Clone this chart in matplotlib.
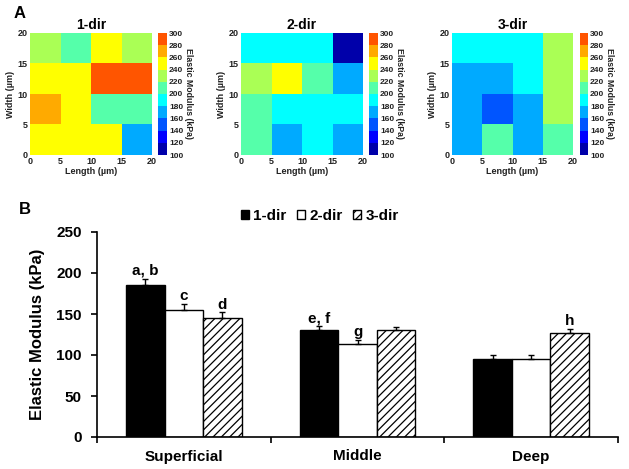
import numpy as np
import matplotlib
matplotlib.use('Agg')
import matplotlib.pyplot as plt
from matplotlib.colors import ListedColormap, BoundaryNorm

plt.rcParams['font.family'] = ['Liberation Sans', 'DejaVu Sans']
plt.rcParams['font.weight'] = 'bold'
plt.rcParams['axes.labelweight'] = 'bold'
plt.rcParams['hatch.linewidth'] = 0.9

# heatmap data (rows from width 0-5 at the bottom to 15-20 at the top), kPa
grid_edges = [0, 5, 10, 15, 20]
map_titles = ['1-dir', '2-dir', '3-dir']
map_1dir = [[250, 250, 250, 170],
            [270, 250, 210, 210],
            [250, 250, 290, 290],
            [230, 210, 250, 230]]
map_2dir = [[210, 170, 190, 170],
            [210, 190, 190, 190],
            [230, 250, 210, 170],
            [190, 190, 190, 110]]
map_3dir = [[170, 210, 170, 210],
            [170, 150, 170, 230],
            [170, 170, 190, 230],
            [190, 190, 190, 230]]
cbar_levels = list(range(100, 301, 20))

# bar chart data
zones = ['Superficial', 'Middle', 'Deep']
series = ['1-dir', '2-dir', '3-dir']
mean_1dir = [185, 131, 95]
mean_2dir = [155, 114, 95]
mean_3dir = [145, 130, 127]
err_1dir = [8, 4, 5]
err_2dir = [7, 4, 5]
err_3dir = [7, 4, 5]
letters_1dir = ['a, b', 'e, f', '']
letters_2dir = ['c', 'g', '']
letters_3dir = ['d', '', 'h']

W, H = 629, 469
fig = plt.figure(figsize=(W / 100, H / 100), dpi=100)


def box(l, t, r, b):
    return [l / W, 1 - b / H, (r - l) / W, (b - t) / H]


# jet with 10 levels (matlab style)
jet10 = ListedColormap([
    (0, 0, 0.667), (0, 0, 1), (0, 0.333, 1), (0, 0.667, 1), (0, 1, 1),
    (0.333, 1, 0.667), (0.667, 1, 0.333), (1, 1, 0), (1, 0.667, 0), (1, 0.333, 0)])
norm = BoundaryNorm(cbar_levels, jet10.N)

map_boxes = [(30, 33, 152, 155), (241, 33, 363, 155), (452, 33, 573, 155)]
cb_boxes = [(158, 33, 167, 155), (369, 33, 378, 155), (580, 33, 588, 155)]

for data, title, mb, cbb in zip([map_1dir, map_2dir, map_3dir], map_titles, map_boxes, cb_boxes):
    ax = fig.add_axes(box(*mb))
    mesh = ax.pcolormesh(grid_edges, grid_edges, np.array(data), cmap=jet10, norm=norm)
    for s in ax.spines.values():
        s.set_visible(False)
    ax.set_xticks(grid_edges)
    ax.set_yticks(grid_edges)
    ax.tick_params(labelsize=6.5, length=0, pad=1.5, labelcolor='#222222')
    ax.set_xlabel('Length (µm)', fontsize=6.5, labelpad=1, color='#222222')
    ax.set_ylabel('Width (µm)', fontsize=6.5, labelpad=2, color='#222222')
    ax.set_title(title, fontsize=10, fontweight='bold', pad=3)
    cax = fig.add_axes(box(*cbb))
    cb = fig.colorbar(mesh, cax=cax, ticks=cbar_levels)
    cb.outline.set_visible(False)
    cax.tick_params(labelsize=6, length=0, pad=1.5, labelcolor='#222222')
    cb.set_label('Elastic Modulus (kPa)', fontsize=6.3, rotation=270, labelpad=7, color='#222222')

fig.text(20 / W, 1 - 13 / H, 'A', fontsize=12, fontweight='bold', ha='center', va='center')
fig.text(25 / W, 1 - 210 / H, 'B', fontsize=12, fontweight='bold', ha='center', va='center')

# bar chart
ax = fig.add_axes(box(97, 232, 618, 437))
x = np.arange(len(zones))
bw = 0.222
styles = [dict(color='black', edgecolor='black'),
          dict(color='white', edgecolor='black'),
          dict(color='white', edgecolor='black', hatch='////')]
means = [mean_1dir, mean_2dir, mean_3dir]
errs = [err_1dir, err_2dir, err_3dir]
letters = [letters_1dir, letters_2dir, letters_3dir]
handles = []
for i in range(3):
    pos = x + (i - 1) * bw
    b = ax.bar(pos, means[i], bw, yerr=[[0] * 3, errs[i]], capsize=2,
               error_kw=dict(ecolor='black', elinewidth=1, capthick=1),
               linewidth=1, label=series[i], **styles[i])
    handles.append(b)
    for p, m, e, t in zip(pos, means[i], errs[i], letters[i]):
        if t:
            ax.text(p, m + e + 1, t, ha='center', va='bottom', fontsize=11, fontweight='bold')

ax.set_xlim(-0.5, 2.5)
ax.set_ylim(0, 250)
ax.set_yticks([0, 50, 100, 150, 200, 250])
ax.set_xticks([-0.5, 0.5, 1.5, 2.5])
ax.set_xticklabels([])
ax.set_xticks(x, minor=True)
ax.set_xticklabels(zones, minor=True)
ax.tick_params(axis='x', which='minor', length=0, pad=9, labelsize=11)
ax.tick_params(axis='x', which='major', length=4, width=1.2, direction='out')
ax.tick_params(axis='y', length=4, width=1.2, labelsize=11, pad=7)
ax.spines['top'].set_visible(False)
ax.spines['right'].set_visible(False)
ax.spines['left'].set_linewidth(1.2)
ax.spines['bottom'].set_linewidth(1.2)
ax.set_ylabel('Elastic Modulus (kPa)', fontsize=12, fontweight='bold', labelpad=8)

fig.legend(handles=handles, loc='center', bbox_to_anchor=(320 / W, 1 - 216 / H), ncol=3,
           frameon=False, fontsize=11, handlelength=0.5, handleheight=0.5,
           handletextpad=0.3, columnspacing=0.7, borderpad=0)

fig.savefig('out.png', dpi=100)
